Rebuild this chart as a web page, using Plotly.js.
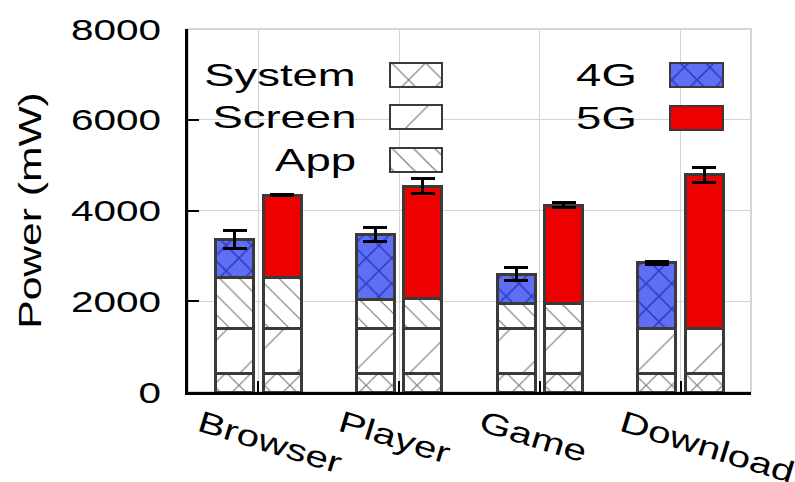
<!DOCTYPE html>
<html>
<head>
<meta charset="utf-8">
<script src="https://cdn.plot.ly/plotly-3.0.1.min.js"></script>
<style>html,body{margin:0;padding:0;background:#fff;}</style>
</head>
<body>
<div id="chart" style="width:795px;height:482px;"></div>
<script>
// ---- data ----
const categories = ['Browser', 'Player', 'Game', 'Download'];
const system4G = [400, 400, 400, 400];
const system5G = [400, 400, 400, 400];
const screen4G = [1000, 1000, 1000, 1000];
const screen5G = [1000, 1000, 1000, 1000];
const app4G = [1130, 630, 540, 0];
const app5G = [1130, 650, 550, 0];
const net4G = [840, 1450, 660, 1445];
const net5G = [1810, 2490, 2170, 3385];
const err4G = [200, 155, 150, 40];
const err5G = [20, 170, 60, 170];
const yTicks = [0, 2000, 4000, 6000, 8000];

// ---- layout constants ----
const OFF = 0.168, BW = 0.27;
const xs4G = categories.map((c, i) => i - OFF);
const xs5G = categories.map((c, i) => i + OFF);
const OUT = {color: '#3a3a3a', width: 3};
const FONT = 'Liberation Sans, Arial, sans-serif';

function pat(shape, size, sol, fg, bg) {
  return {shape: shape, size: size, solidity: sol, fgcolor: fg, bgcolor: bg, fillmode: 'replace'};
}
const pSys = pat('x', 18, 0.13, '#7a7a7a', '#ffffff');
const pScr = pat('/', 40, 0.03, '#7a7a7a', '#ffffff');
const pApp = pat('\\', 14, 0.085, '#7a7a7a', '#ffffff');
const p4G = pat('x', 18, 0.16, '#2a3ab8', '#5e6ff6');

function seg(xs, ys, p, extra) {
  return Object.assign({
    type: 'bar', x: xs, y: ys, width: BW, showlegend: false, hoverinfo: 'skip',
    marker: {color: '#ffffff', pattern: p, line: OUT}
  }, extra || {});
}
const errStyle = (arr) => ({type: 'data', array: arr, visible: true, color: '#000000', thickness: 3, width: 12});

const traces = [
  seg(xs4G, system4G, pSys), seg(xs5G, system5G, pSys),
  seg(xs4G, screen4G, pScr), seg(xs5G, screen5G, pScr),
  seg(xs4G, app4G, pApp), seg(xs5G, app5G, pApp),
  seg(xs4G, net4G, p4G, {error_y: errStyle(err4G)}),
  Object.assign(seg(xs5G, net5G, null, {error_y: errStyle(err5G)}), {marker: {color: '#ee0000', line: OUT}})
];

// ---- custom legend (pixel frame via overlay axes) ----
const legendLeft = [
  {name: 'System', p: pat('x', 24, 0.1, '#7a7a7a', '#ffffff'), color: '#ffffff', cy: 75},
  {name: 'Screen', p: pat('/', 28, 0.04, '#7a7a7a', '#ffffff'), color: '#ffffff', cy: 117},
  {name: 'App', p: pat('\\', 15, 0.08, '#7a7a7a', '#ffffff'), color: '#ffffff', cy: 160}
];
const legendRight = [
  {name: '4G', p: pat('x', 18, 0.16, '#2a3ab8', '#5e6ff6'), color: '#5e6ff6', cy: 75},
  {name: '5G', p: null, color: '#ee0000', cy: 118}
];
const annotations = [];
function addLegend(items, swX, swW, textRight) {
  items.forEach(it => {
    const m = {color: it.color, line: {color: '#3a3a3a', width: 2.5}};
    if (it.p) m.pattern = it.p;
    traces.push({type: 'bar', orientation: 'h', xaxis: 'x2', yaxis: 'y2', y: [it.cy], x: [swW], base: [swX],
      width: [24], marker: m, showlegend: false, hoverinfo: 'skip'});
    annotations.push({xref: 'x2', yref: 'y2', x: textRight, y: it.cy, xanchor: 'right', yanchor: 'middle',
      text: it.name, showarrow: false, font: {family: FONT, size: 32, color: '#000'}});
  });
}
addLegend(legendLeft, 390, 52, 358);
addLegend(legendRight, 670, 53, 639);

const L = 188, R = 751, T = 29, B = 392;
const px = (v) => (v - L) / (R - L);
const py = (v) => (B - v) / (B - T);

const layout = {
  width: 795, height: 482,
  margin: {l: L, r: 795 - R, t: T, b: 482 - B, pad: 0},
  paper_bgcolor: '#ffffff', plot_bgcolor: '#ffffff',
  barmode: 'stack', bargap: 0,
  showlegend: false,
  xaxis: {
    range: [-0.5, 3.5], tickmode: 'array', tickvals: categories.map((c, i) => i), ticktext: categories,
    tickangle: 17, ticklabelshift: -58, ticks: 'inside', ticklen: 11, tickwidth: 2, tickcolor: '#000',
    showline: true, linecolor: '#000', linewidth: 3, showgrid: true, gridcolor: '#d4d4d4', gridwidth: 1,
    zeroline: false, tickfont: {family: FONT, size: 30, color: '#000'}, automargin: false, fixedrange: true
  },
  yaxis: {
    range: [0, 8000], tickmode: 'array', tickvals: yTicks, ticktext: yTicks.map(String),
    ticks: 'inside', ticklen: 11, tickwidth: 2, tickcolor: '#000', ticklabelstandoff: 18,
    showline: true, linecolor: '#000', linewidth: 3, showgrid: true, gridcolor: '#d4d4d4', gridwidth: 1,
    zeroline: false, tickfont: {family: FONT, size: 30, color: '#000'}, automargin: false, fixedrange: true,
    title: {text: 'Power (mW)', font: {family: FONT, size: 32, color: '#000'}, standoff: 44}
  },
  xaxis2: {overlaying: 'x', range: [L, R], visible: false, fixedrange: true},
  yaxis2: {overlaying: 'y', range: [B, T], visible: false, fixedrange: true},
  shapes: [
    {type: 'rect', xref: 'paper', yref: 'paper', x0: 0, x1: 1, y0: 0, y1: 1, line: {color: '#c8c8c8', width: 1.5}, layer: 'below'},
    {type: 'rect', xref: 'paper', yref: 'paper', x0: px(195), x1: px(738), y0: py(182), y1: py(52),
      fillcolor: '#ffffff', line: {width: 0}, layer: 'between'}
  ],
  annotations: annotations
};

Plotly.newPlot('chart', traces, layout, {displayModeBar: false, staticPlot: true}).then(gd => {
  const stretch = (sel, k, keep) => {
    gd.querySelectorAll(sel).forEach(t => {
      const b0 = t.getBoundingClientRect();
      const w = t.getComputedTextLength();
      t.setAttribute('textLength', (w * k).toFixed(1));
      t.setAttribute('lengthAdjust', 'spacingAndGlyphs');
      if (keep === 'right') {
        const b1 = t.getBoundingClientRect();
        const dx = b1.right - b0.right;
        const x = parseFloat(t.getAttribute('x') || '0');
        t.setAttribute('x', (x - dx).toFixed(1));
      }
    });
  };
  stretch('.ytick text', 1.35);
  stretch('.xtick text', 1.35);
  stretch('.g-ytitle text', 1.33);
  stretch('.annotation-text', 1.42, 'right');
});
</script>
</body>
</html>
